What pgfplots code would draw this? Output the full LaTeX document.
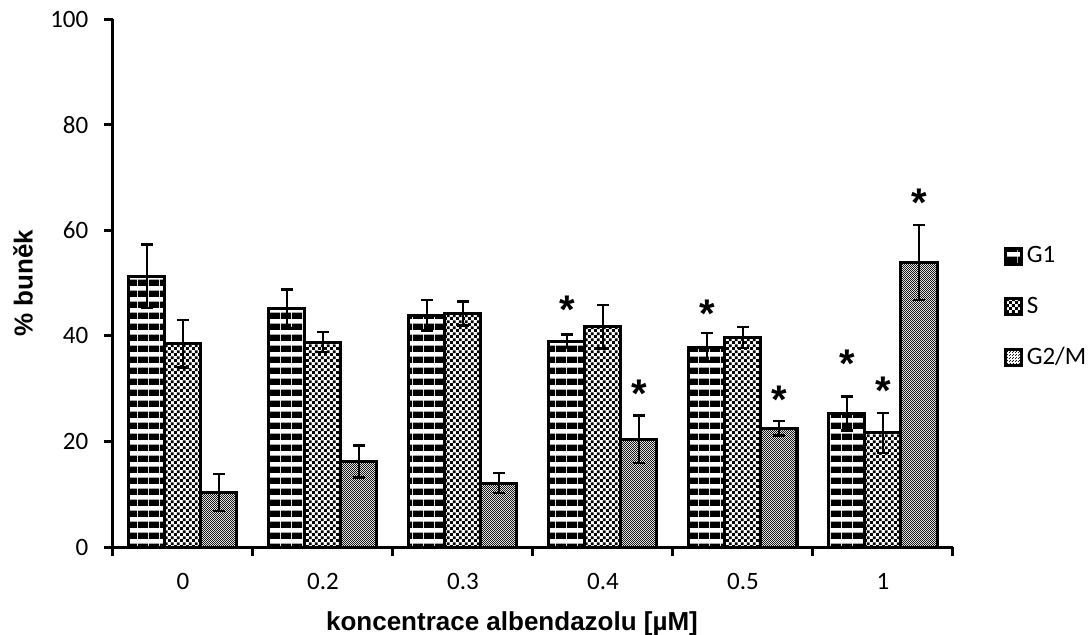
\documentclass[border=0pt]{standalone}
\usepackage{fontspec}
\setmainfont{Carlito}
\newfontfamily\arialf{Liberation Sans}
\usepackage{pgfplots}
\pgfplotsset{compat=1.18}
\usepackage{pgfplotstable}
\usetikzlibrary{patterns}

\pgfdeclarepatternformonly{hstripes}{\pgfqpoint{0pt}{0pt}}{\pgfqpoint{5.3pt}{5.3pt}}{\pgfqpoint{5.3pt}{5.3pt}}{%
  \pgfpathrectangle{\pgfqpoint{0pt}{0pt}}{\pgfqpoint{5.3pt}{3.3pt}}\pgfusepath{fill}}
\pgfdeclarepatternformonly{checkS}{\pgfqpoint{0pt}{0pt}}{\pgfqpoint{2.9pt}{2.9pt}}{\pgfqpoint{2.9pt}{2.9pt}}{%
  \pgfpathrectangle{\pgfqpoint{0pt}{0pt}}{\pgfqpoint{1.45pt}{1.45pt}}%
  \pgfpathrectangle{\pgfqpoint{1.45pt}{1.45pt}}{\pgfqpoint{1.45pt}{1.45pt}}\pgfusepath{fill}}
\pgfdeclarepatternformonly{checkG}{\pgfqpoint{0pt}{0pt}}{\pgfqpoint{1.2pt}{1.2pt}}{\pgfqpoint{1.2pt}{1.2pt}}{%
  \pgfpathrectangle{\pgfqpoint{0pt}{0pt}}{\pgfqpoint{0.6pt}{0.6pt}}%
  \pgfpathrectangle{\pgfqpoint{0.6pt}{0.6pt}}{\pgfqpoint{0.6pt}{0.6pt}}\pgfusepath{fill}}

\pgfplotstableread{
x G1 G1e S Se G2 G2e
0 51.3 6.0 38.5 4.5 10.3 3.5
1 45.1 3.7 38.8 1.9 16.2 3.0
2 43.9 2.9 44.2 2.3 12.1 1.9
3 39.0 1.3 41.7 4.1 20.4 4.5
4 37.8 2.7 39.7 2.0 22.5 1.4
5 25.3 3.2 21.6 3.8 53.9 7.1
}\data

\pgfplotstableread{
x y
3 46.5
4 45.8
5 36.3
}\starGone
\pgfplotstableread{
x y
5 31.1
}\starS
\pgfplotstableread{
x y
3 30.5
4 29.4
5 66.8
}\starGtwo

\newcommand\tickfont{\fontsize{12.5}{15}\selectfont}
\newcommand\labelfont{\arialf\bfseries\fontsize{13}{15}\selectfont}
\newcommand\starfont{\arialf\bfseries\fontsize{20}{20}\selectfont}

\begin{document}
\begin{tikzpicture}
\begin{axis}[
  scale only axis, width=420pt, height=264pt,
  xmin=-0.5, xmax=5.5, ymin=0, ymax=100,
  axis x line*=bottom, axis y line*=left,
  axis line style={line width=1.5pt, -},
  xtick={0,...,5}, xticklabels={0,0.2,0.3,0.4,0.5,1},
  minor xtick={-0.5,0.5,...,5.5},
  ytick={0,20,...,100},
  tick align=outside,
  major tick length=4.5pt, minor tick length=4.5pt,
  major x tick style={draw=none},
  minor x tick style={line width=1.5pt, black},
  y tick style={line width=1.5pt, black},
  /pgf/number format/assume math mode=true,
  ticklabel style={font=\tickfont},
  xticklabel style={yshift=-5.3pt},
  yticklabel style={xshift=-4.3pt},
  xlabel={koncentrace albendazolu [µM]},
  xlabel style={at={(axis description cs:0.475,-0.159)}, anchor=base, font=\labelfont},
  ylabel={\% buněk},
  ylabel style={at={(axis description cs:-0.1071,0.5)}, anchor=center, font=\labelfont},
  legend style={draw=none, fill=none, at={(axis description cs:1.060,0.4545)}, anchor=west,
    font=\tickfont, row sep=11.5pt, inner sep=0pt, legend cell align=left},
  legend image code/.code={\draw[#1, line width=1.5pt] (0pt,-4pt) rectangle (8pt,4pt);},
  error bars/y dir=both, error bars/y explicit,
  clip=false,
]
\addplot[ybar, bar width=18pt, bar shift=-18pt, draw=black, line width=1.5pt,
  preaction={fill=white}, pattern=hstripes, pattern color=black,
  error bars/error bar style={xshift=-18pt, line width=1.3pt, black, solid},
  error bars/error mark options={xshift=-18pt, rotate=90, line width=1.3pt, black, mark size=3pt}]
  table[x=x, y=G1, y error=G1e] {\data};
\addlegendentry{G1}
\addplot[ybar, bar width=18pt, bar shift=0pt, draw=black, line width=1.5pt,
  preaction={fill=white}, pattern=checkS, pattern color=black,
  error bars/error bar style={line width=1.3pt, black, solid},
  error bars/error mark options={rotate=90, line width=1.3pt, black, mark size=3pt}]
  table[x=x, y=S, y error=Se] {\data};
\addlegendentry{S}
\addplot[ybar, bar width=18pt, bar shift=18pt, draw=black, line width=1.5pt,
  preaction={fill=white}, pattern=checkG, pattern color=black!90,
  error bars/error bar style={xshift=18pt, line width=1.3pt, black, solid},
  error bars/error mark options={xshift=18pt, rotate=90, line width=1.3pt, black, mark size=3pt}]
  table[x=x, y=G2, y error=G2e] {\data};
\addlegendentry{G2/M}

\addplot[only marks, mark=none, forget plot, error bars/y dir=none,
  nodes near coords={*}, every node near coord/.style={font=\starfont, anchor=base, xshift=-18pt, yshift=-11pt, inner sep=0pt}]
  table[x=x, y=y] {\starGone};
\addplot[only marks, mark=none, forget plot, error bars/y dir=none,
  nodes near coords={*}, every node near coord/.style={font=\starfont, anchor=base, xshift=0pt, yshift=-11pt, inner sep=0pt}]
  table[x=x, y=y] {\starS};
\addplot[only marks, mark=none, forget plot, error bars/y dir=none,
  nodes near coords={*}, every node near coord/.style={font=\starfont, anchor=base, xshift=18pt, yshift=-11pt, inner sep=0pt}]
  table[x=x, y=y] {\starGtwo};
\end{axis}
\pgfresetboundingbox
\path (-56.5pt,-43.5pt) rectangle (488pt,273.5pt);
\end{tikzpicture}
\end{document}
